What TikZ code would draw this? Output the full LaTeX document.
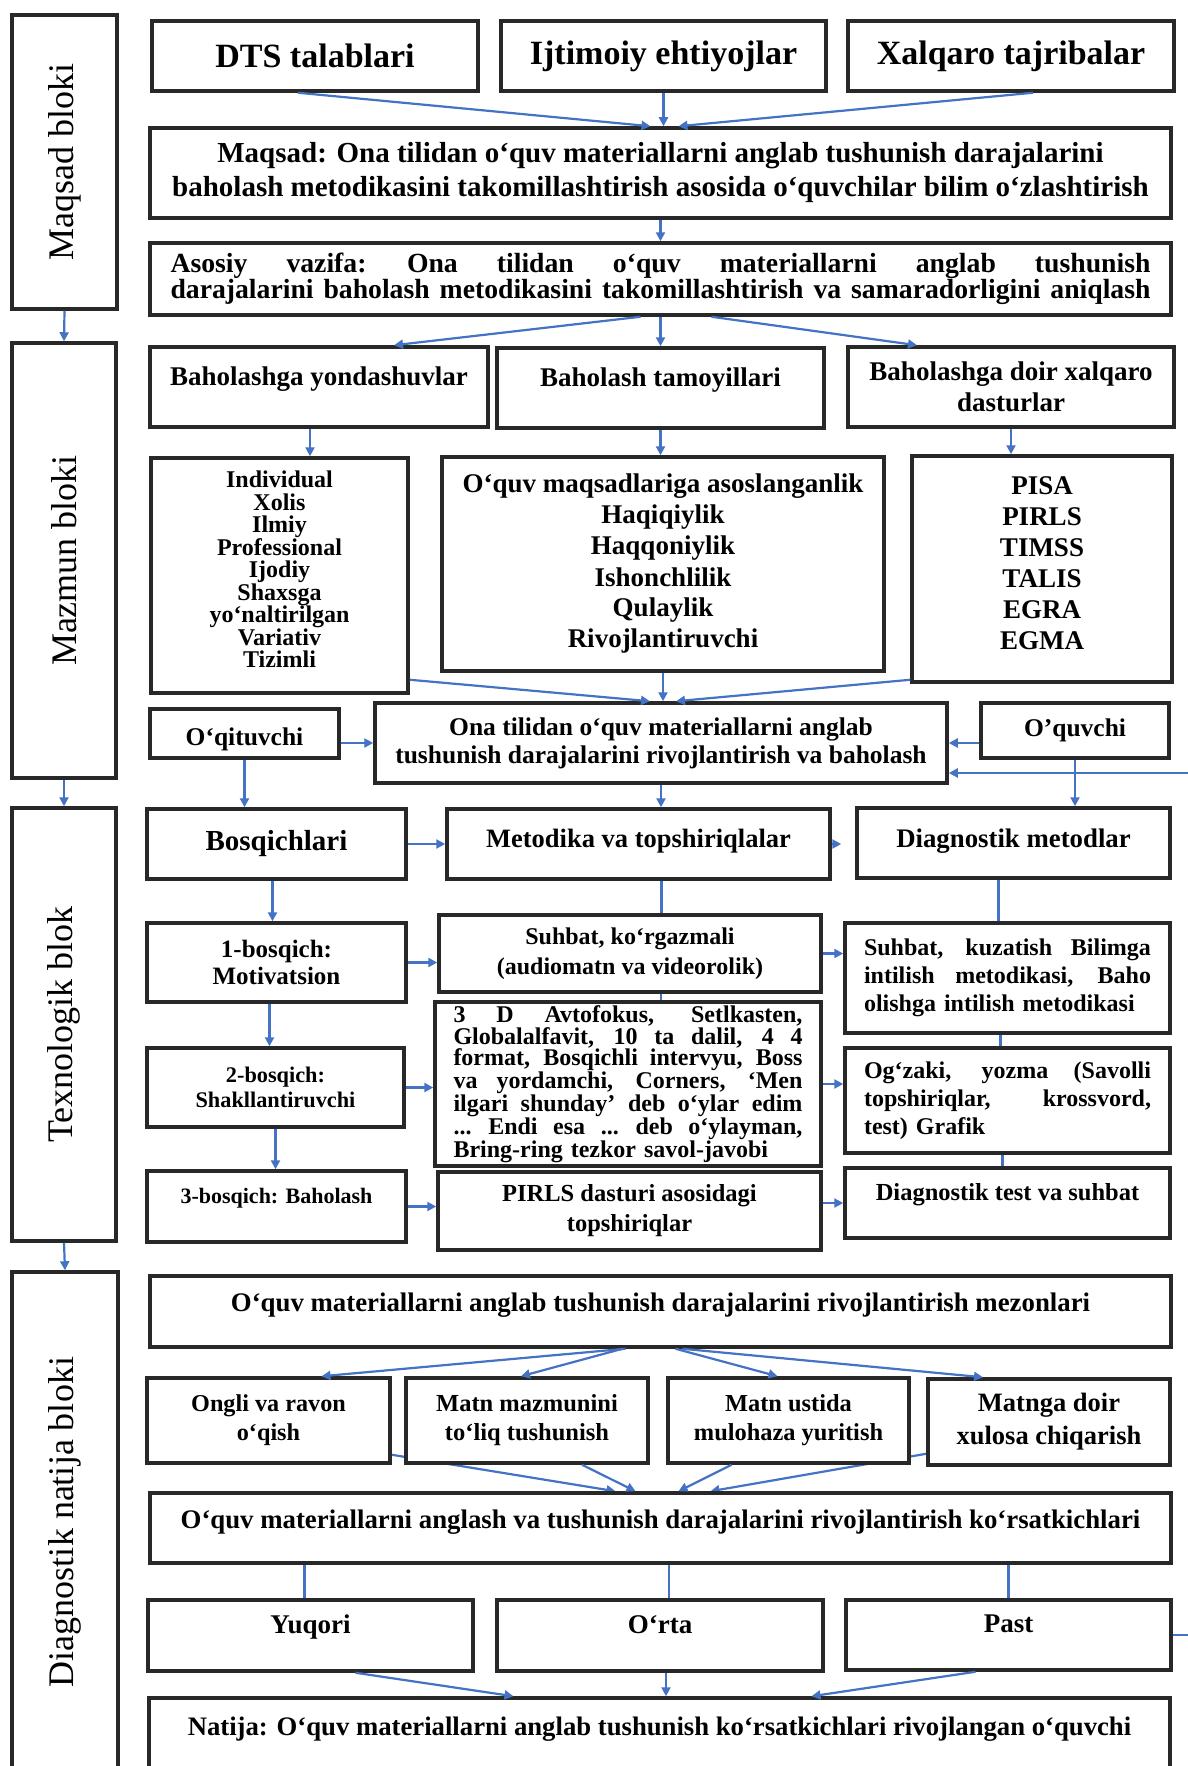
\documentclass[tikz,border=0pt]{standalone}
\usepackage{fontspec}
\setmainfont{Liberation Serif}
\usetikzlibrary{arrows.meta,backgrounds}
\definecolor{edge}{RGB}{40,40,40}
\definecolor{flow}{RGB}{68,114,196}
\newcommand{\jline}[2]{\leavevmode\hbox to #1{\spaceskip=0.25em plus 1fil\xspaceskip=0.3em plus 1fil\relax #2}}

\begin{document}
\lineskiplimit=-100pt
\begin{tikzpicture}[x=1pt,y=-1pt,
    box/.style={draw=edge, line width=3.5pt, fill=white, inner sep=2pt, align=center},
    fnt/.style 2 args={font=\bfseries\fontsize{#1}{#2}\selectfont},
    sz/.style 2 args={minimum width=#1, minimum height=#2},
    side/.style={box, rotate=90, font=\fontsize{36}{40}\selectfont},
    link/.style={draw=flow, line width=2.2pt},
    arr/.style={link, -{Triangle[length=9pt,width=9pt]}}]
\useasboundingbox (0,0) rectangle (1187,1766);

    \node[side, sz={294}{105}] (sideA) at (64.5,162) {Maqsad bloki};
    \node[side, sz={435}{104}] (sideB) at (64,560.5) {Mazmun bloki};
    \node[side, sz={433}{104}] (sideC) at (64,1024.5) {Texnologik blok};
    \node[side, sz={500}{106}] (sideD) at (65,1522) {Diagnostik natija bloki};

    \node[box, fnt={34}{36}, sz={326}{70}] (dts) at (315,56) {DTS talablari};
    \node[box, fnt={34}{36}, sz={325}{70}] (ijt) at (663.5,56) {Ijtimoiy ehtiyojlar};
    \node[box, fnt={34}{36}, sz={326}{70}] (xal) at (1011,56) {Xalqaro tajribalar};
    \node[box, fnt={29}{34}, sz={1021}{90}] (maqsad) at (660.5,173)
        {Maqsad: Ona tilidan o‘quv materiallarni anglab tushunish darajalarini\\baholash metodikasini takomillashtirish asosida o‘quvchilar bilim o‘zlashtirish};
    \node[box, fnt={27.7}{21}, sz={1021}{72}, text width=980pt, align=left] (vazifa) at (660.5,279)
        {\jline{980pt}{Asosiy vazifa: Ona tilidan o‘quv materiallarni anglab tushunish}\\\jline{980pt}{darajalarini baholash metodikasini takomillashtirish va samaradorligini aniqlash}};

    \node[box, fnt={27}{31}, sz={338}{80}, text height=19pt, text depth=23pt] (yond) at (319,387) {Baholashga yondashuvlar};
    \node[box, fnt={27}{31}, sz={327}{80}, text height=19pt, text depth=23pt] (tamoy) at (660.5,388) {Baholash tamoyillari};
    \node[box, fnt={27}{31}, sz={326}{80}] (doir) at (1011,387) {Baholashga doir xalqaro\\dasturlar};
    \node[box, fnt={24}{22.5}, sz={257}{235}, text depth=12pt] (indiv) at (279.5,575.5)
        {Individual\\Xolis\\Ilmiy\\Professional\\Ijodiy\\Shaxsga\\yo‘naltirilgan\\Variativ\\Tizimli};
    \node[box, fnt={27}{31}, sz={442}{214}] (maqs) at (663,564)
        {O‘quv maqsadlariga asoslanganlik\\Haqiqiylik\\Haqqoniylik\\Ishonchlilik\\Qulaylik\\Rivojlantiruvchi};
    \node[box, fnt={27}{31}, sz={260}{226}, text depth=12pt] (pisa) at (1042,569) {PISA\\PIRLS\\TIMSS\\TALIS\\EGRA\\EGMA};
    \node[box, fnt={25.5}{28}, sz={189}{49}, text height=24pt, text depth=0pt] (oqit) at (244.5,733.5) {O‘qituvchi};
    \node[box, fnt={25.5}{28}, sz={572}{80}] (ona) at (661,743)
        {Ona tilidan o‘quv materiallarni anglab\\tushunish darajalarini rivojlantirish va baholash};
    \node[box, fnt={25.5}{28}, sz={188}{55}] (oquv) at (1075,730.5) {O’quvchi};

    \node[box, fnt={29}{30}, sz={259}{70}] (bosq) at (276.5,844) {Bosqichlari};
    \node[box, fnt={26.5}{30}, sz={383}{70}, text height=18pt, text depth=12pt] (metod) at (638.5,844) {Metodika va topshiriqlalar};
    \node[box, fnt={26.8}{30}, sz={313}{70}, text height=18pt, text depth=10pt] (diagm) at (1013.5,843) {Diagnostik metodlar};
    \node[box, fnt={25}{27}, sz={259}{79}] (b1) at (276.5,962.5) {1-bosqich:\\Motivatsion};
    \node[box, fnt={24}{30}, sz={382}{77}] (suhb) at (630,953.5) {Suhbat, ko‘rgazmali\\(audiomatn va videorolik)};
    \node[box, fnt={24}{28}, sz={325}{110}, text width=287pt, align=left] (kuz) at (1007.5,978)
        {\jline{287pt}{Suhbat, kuzatish Bilimga}\\\jline{287pt}{intilish metodikasi, Baho}\\olishga intilish metodikasi};
    \node[box, fnt={22.3}{25}, sz={257}{79}] (b2) at (275.5,1087.5) {2-bosqich:\\Shakllantiruvchi};
    \node[box, fnt={24}{20}, sz={386}{164}, text width=349pt, align=left] (avto) at (628,1084)
        {\jline{349pt}{3 D Avtofokus, Setlkasten,}\\
         \jline{349pt}{Globalalfavit, 10 ta dalil, 4 4}\\
         \jline{349pt}{format, Bosqichli intervyu, Boss}\\
         \jline{349pt}{va yordamchi, Corners, ‘Men}\\
         \jline{349pt}{ilgari shunday’ deb o‘ylar edim}\\
         \jline{349pt}{... Endi esa ... deb o‘ylayman,}\\
         Bring-ring tezkor savol-javobi};
    \node[box, fnt={24}{28}, sz={325}{105}, text width=287pt, align=left] (ogz) at (1007.5,1100.5)
        {\jline{287pt}{Og‘zaki, yozma (Savolli}\\\jline{287pt}{topshiriqlar, krossvord,}\\test) Grafik};
    \node[box, fnt={22}{25}, sz={259}{71}, text height=15pt, text depth=22pt] (b3) at (276.5,1206.5) {3-bosqich: Baholash};
    \node[box, fnt={24.5}{30}, sz={383}{78}] (pirls) at (629.5,1211) {PIRLS dasturi asosidagi\\topshiriqlar};
    \node[box, fnt={24.5}{28}, sz={325}{70}, text height=16pt, text depth=22pt] (dtest) at (1007.5,1203) {Diagnostik test va suhbat};

    \node[box, fnt={26.8}{28}, sz={1021}{71}, text height=18pt, text depth=18pt] (mez) at (660.5,1311.5)
        {O‘quv materiallarni anglab tushunish darajalarini rivojlantirish mezonlari};
    \node[box, fnt={24.2}{29}, sz={243}{85}] (ongli) at (268.5,1420.5) {Ongli va ravon\\o‘qish};
    \node[box, fnt={24.5}{29}, sz={242}{85}] (mazm) at (527,1420.5) {Matn mazmunini\\to‘liq tushunish};
    \node[box, fnt={24.4}{29}, sz={241}{85}] (ustida) at (788.5,1420.5) {Matn ustida\\mulohaza yuritish};
    \node[box, fnt={26.5}{33}, sz={242}{86}] (xulosa) at (1049,1422) {Matnga doir\\xulosa chiqarish};
    \node[box, fnt={26.8}{28}, sz={1021}{70}, text height=18pt, text depth=18pt] (kors) at (660.5,1528)
        {O‘quv materiallarni anglash va tushunish darajalarini rivojlantirish ko‘rsatkichlari};
    \node[box, fnt={27}{30}, sz={325}{71}, text height=18pt, text depth=23pt] (yuq) at (310.5,1635.5) {Yuqori};
    \node[box, fnt={27}{30}, sz={326}{71}, text height=18pt, text depth=23pt] (orta) at (660,1635.5) {O‘rta};
    \node[box, fnt={27}{30}, sz={325}{70}, text height=18pt, text depth=23pt] (past) at (1008.5,1635) {Past};
    \node[box, fnt={26.7}{28}, sz={1021}{77}, text height=18pt, text depth=21pt] (natija) at (659.5,1736.5)
        {Natija: O‘quv materiallarni anglab tushunish ko‘rsatkichlari rivojlangan o‘quvchi};

\draw[arr] (sideA.west) -- (sideB.east);
\draw[arr] (sideB.west) -- (sideC.east);
\draw[arr] (sideC.west) -- (sideD.east);

\draw[arr] ([xshift=-17pt]dts.south) -- ([xshift=-10pt]maqsad.north);
\draw[arr] (ijt.south) -- (ijt.south |- maqsad.north);
\draw[arr] ([xshift=22pt]xal.south) -- ([xshift=18pt]maqsad.north);
\draw[arr] (maqsad.south) -- (vazifa.north);
\draw[arr] ([xshift=-20pt]vazifa.south) -- ([xshift=75pt]yond.north);
\draw[arr] (vazifa.south) -- (tamoy.north);
\draw[arr] ([xshift=51pt]vazifa.south) -- ([xshift=-94pt]doir.north);
\draw[arr] ([xshift=-9pt]yond.south) -- ([xshift=-9pt]yond.south |- indiv.north);
\draw[arr] (tamoy.south) -- (tamoy.south |- maqs.north);
\draw[arr] (doir.south) -- (doir.south |- pisa.north);
\draw[arr] ([yshift=15pt]indiv.south east) -- ([xshift=-11pt]ona.north);
\draw[arr] (maqs.south) -- (maqs.south |- ona.north);
\draw[arr] ([yshift=4pt]pisa.south west) -- ([xshift=15pt]ona.north);
\draw[arr] (oqit.east |- ona.west) -- (ona.west);
\draw[arr] (oquv.west |- ona.east) -- (ona.east);
\coordinate (back) at (1200,773);
\draw[arr] (past.east) -| (back) -- (back -| ona.east);

\draw[arr] (oqit.south) -- (oqit.south |- bosq.north);
\draw[arr] (ona.south) -- (ona.south |- metod.north);
\draw[arr] (oquv.south) -- (oquv.south |- diagm.north);
\draw[arr] (bosq.east) -- (metod.west);
\draw[arr, shorten >=14pt] (metod.east) -- (metod.east -| diagm.west);
\draw[arr] ([xshift=-4pt]bosq.south) -- ([xshift=-4pt]bosq.south |- b1.north);
\draw[arr] ([xshift=-7pt]b1.south) -- ([xshift=-7pt]b1.south |- b2.north);
\draw[arr] (b2.south) -- (b2.south |- b3.north);
\draw[arr] (b1.east) -- (b1.east -| suhb.west);
\draw[arr] (b2.east) -- (b2.east -| avto.west);
\draw[arr] (b3.east) -- (b3.east -| pirls.west);
\draw[link] ([xshift=23pt]metod.south) -- ([xshift=23pt]metod.south |- suhb.north);
\draw[link] ([xshift=31pt]suhb.south) -- ([xshift=31pt]suhb.south |- avto.north);
\draw[link] ([xshift=-15pt]diagm.south) -- ([xshift=-15pt]diagm.south |- kuz.north);
\draw[link] ([xshift=-7pt]kuz.south) -- ([xshift=-7pt]kuz.south |- ogz.north);
\draw[link] ([xshift=-5pt]ogz.south) -- ([xshift=-5pt]ogz.south |- dtest.north);
\draw[arr] (suhb.east) -- (suhb.east -| kuz.west);
\draw[arr] (avto.east) -- (avto.east -| ogz.west);
\draw[arr] ([yshift=8pt]pirls.east) -- ([yshift=8pt]pirls.east -| dtest.west);

\draw[arr] ([xshift=-35pt]mez.south) -- ([xshift=53pt]ongli.north);
\draw[arr] ([xshift=-38pt]mez.south) -- ([xshift=-6pt]mazm.north);
\draw[arr] ([xshift=15pt]mez.south) -- ([xshift=-11pt]ustida.north);
\draw[arr] ([xshift=22pt]mez.south) -- ([xshift=-66pt]xulosa.north);
\begin{pgfonlayer}{background}
\draw[arr] ([yshift=10pt]ongli.south east) -- ([xshift=-45pt]kors.north);
\draw[arr] ([yshift=13pt]xulosa.south west) -- ([xshift=50pt]kors.north);
\end{pgfonlayer}
\draw[arr] ([xshift=55pt]mazm.south) -- ([xshift=-25pt]kors.north);
\draw[arr] ([xshift=-57pt]ustida.south) -- ([xshift=18pt]kors.north);
\draw[link] ([xshift=-6pt]yuq.north |- kors.south) -- ([xshift=-6pt]yuq.north);
\draw[link] ([xshift=9pt]orta.north |- kors.south) -- ([xshift=9pt]orta.north);
\draw[link] (past.north |- kors.south) -- (past.north);
\draw[arr] ([xshift=45pt]yuq.south) -- ([xshift=-146pt]natija.north);
\draw[arr] ([xshift=6pt]orta.south) -- ([xshift=6pt]orta.south |- natija.north);
\draw[arr] ([xshift=-33pt]past.south) -- ([xshift=152pt]natija.north);
\end{tikzpicture}
\end{document}
